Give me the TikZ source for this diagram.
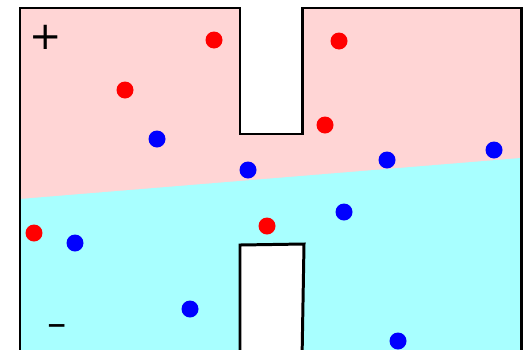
\documentclass[tikz,border=0pt]{standalone}
\usepackage{fontspec}
\usepackage{xcolor}
\usepackage{tikz}
\newfontfamily\signfont{DejaVu Sans}
\definecolor{pinkside}{HTML}{FFD5D5}
\definecolor{cyanside}{HTML}{A8FFFF}

\begin{document}
\begin{tikzpicture}[x={(0.02cm,0)}, y={(0,-0.02cm)},
    wall/.style={draw=black, line width=1.7pt, line join=miter},
    redion/.style={fill=red},
    blueion/.style={fill=blue},
    sign/.style={font=\signfont\fontsize{22}{26}\selectfont, inner sep=0pt},
  ]
    \useasboundingbox (0,0) rectangle (523,349);
    % the chamber: outer box with a notch from the top and a post from below
    \begin{scope}
      \clip (20,360) -- (20,8) -- (240,8) -- (240,134) -- (302,134) -- (302,8)
            -- (521,8) -- (521,360) -- (302,360) -- (304,244) -- (240,245)
            -- (240,360) -- cycle;
      \fill[pinkside] (0,0) rectangle (523,360);
      \fill[cyanside] (0,200.6) -- (523,157.8) -- (523,360) -- (0,360) -- cycle;
    \end{scope}
    \draw[wall] (20,360) -- (20,8) -- (240,8) -- (240,134) -- (302,134)
                -- (302,8) -- (521,8) -- (521,360);
    \draw[wall] (240,360) -- (240,245) -- (304,244) -- (302,360);
    % charges
    \foreach \x/\y in {214/40, 339/41, 125/90, 325/125, 34/233, 267/226}
      \fill[redion] (\x,\y) circle[radius=0.17cm];
    \foreach \x/\y in {157/139, 248/170, 387/160, 494/150, 75/243,
                       190/309, 344/212, 398/341}
      \fill[blueion] (\x,\y) circle[radius=0.17cm];
    \node[sign] (plus) at (46,37) {+};
    \node[sign] (minus) at (57,331) {–};
  \end{tikzpicture}
\end{document}
